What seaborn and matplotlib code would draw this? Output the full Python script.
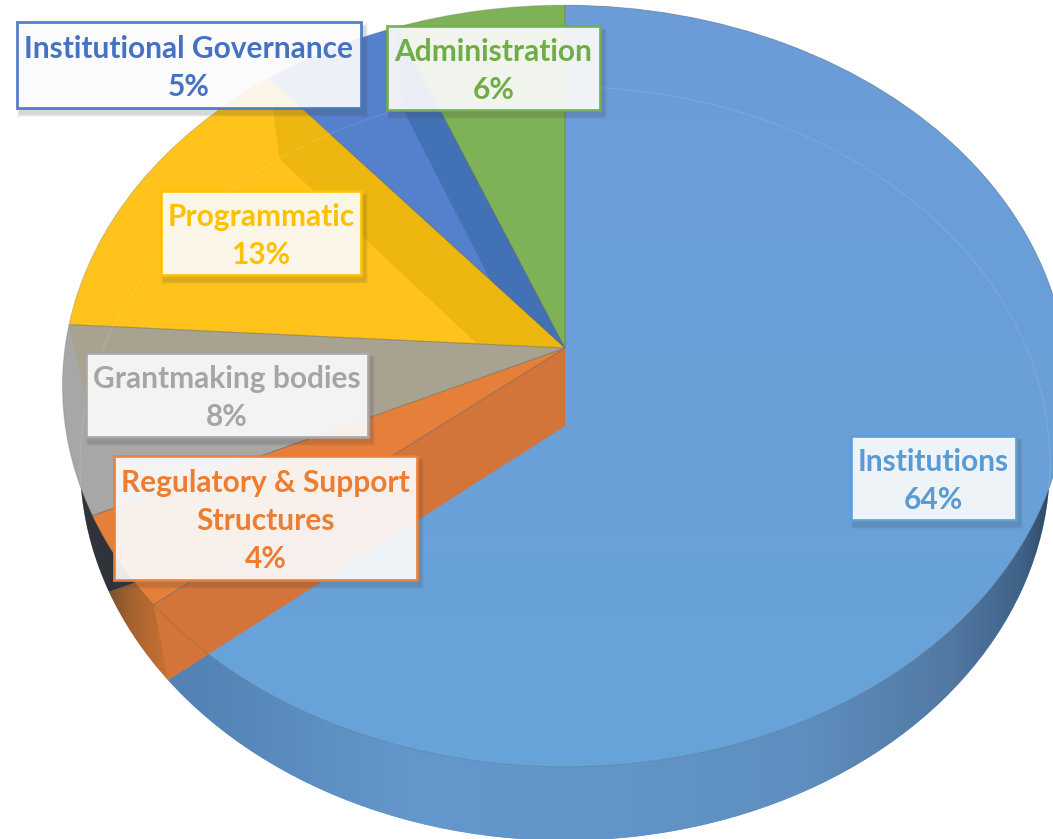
import numpy as np
import matplotlib
matplotlib.use("Agg")
import matplotlib.pyplot as plt
import seaborn as sns
from matplotlib.colors import LinearSegmentedColormap
from matplotlib.patches import Polygon, Rectangle, Circle
from matplotlib.transforms import Transform

# ---- data ----
categories = ["Institutions", "Regulatory & Support\nStructures", "Grantmaking bodies",
              "Programmatic", "Institutional Governance", "Administration"]
shares = [64, 4, 8, 13, 5, 6]

# ---- style ----
top_colors = ["#6A9FD8", "#E67F3A", "#A7A7A5", "#FFC31C", "#5580CB", "#7DB356"]
wall_colors = ["#D3743A", "#E67F3A", "#A8A391", "#EDB710", "#4272B5", "#7DB356"]
text_colors = ["#5B9BD5", "#ED7D31", "#A5A5A5", "#FFC000", "#4472C4", "#70AD47"]
label_boxes = [(851, 436, 165, 84), (114, 456, 303, 124), (86, 353, 282, 84),
               (161, 191, 200, 84), (17, 22, 344, 86), (387, 26, 213, 84)]
W, H = 1053, 839
APEX_X, APEX_Y, HALF_W, HALF_H, PERSP = 565, 348, 500, 377, 0.0997

sns.set_theme(style="white")
plt.rcParams["font.family"] = ["Lato", "DejaVu Sans"]


class Project(Transform):
    """Unit pie coordinates to the tilted view, in pixels of the picture."""
    input_dims = output_dims = 2
    has_inverse = False

    def __init__(self, drop=0, sx=1.0, sy=1.0):
        super().__init__()
        self.drop, self.sx, self.sy = drop, sx, sy

    def transform_non_affine(self, v):
        v = np.asarray(v, float)
        w = 1 + PERSP * v[:, 1]
        return np.column_stack([APEX_X + self.sx * HALF_W * v[:, 0] / w,
                                APEX_Y + self.drop - self.sy * HALF_H * v[:, 1] / w])


top_view, low_view = Project(), Project(78, 0.965, 0.99)

fig = plt.figure(figsize=(W / 100, H / 100), dpi=100)
ax = fig.add_axes([0, 0, 1, 1])


def pie(view, zorder, **props):
    wedges, _ = ax.pie(shares, colors=top_colors, startangle=90, counterclock=False,
                       wedgeprops=props)
    for w in wedges:
        w.set_transform(view + ax.transData)
        w.set_zorder(zorder)
    return wedges


def gradient(nodes, clip, zorder, horizontal=True):
    ramp = np.linspace(0, 1, 512)
    data = ramp[None, :] if horizontal else ramp[:, None]
    cmap = LinearSegmentedColormap.from_list("g", nodes, N=512)
    im = ax.imshow(data, extent=[0, W, H, 0], aspect="auto", cmap=cmap, zorder=zorder)
    im.set_clip_path(clip)
    return im


# outer side of the pie
low = pie(low_view, 1, linewidth=0)
gradient([(0, "#5B8ABB"), (170 / W, "#5281B2"), (400 / W, "#6496CB"), (565 / W, "#6296CA"),
          (800 / W, "#5F8FC0"), (950 / W, "#5279A3"), (1025 / W, "#3F6186"), (1, "#2E4662")],
         low[0], 1.5)
gradient([(0, "#5A3D28"), (100 / W, "#6B4A30"), (130 / W, "#A5622F"), (170 / W, "#CB7234"), (1, "#CB7234")],
         low[1], 1.5)
gradient([(0, "#30343A"), (1, "#30343A")], low[2], 1.5)

# top face
top = pie(top_view, 2, linewidth=0)
gradient([(0, "#6C9CD8"), (0.55, "#6AA0D8"), (1, "#66A5D9")], top[0], 2.5, horizontal=False)

# inner cut faces, seen through the slices
angles = np.cumsum(shares) / np.sum(shares) * 2 * np.pi
for i in range(len(shares)):
    edge = np.array([[0, 0], [np.sin(angles[i]), np.cos(angles[i])]])
    upper, lower = top_view.transform_non_affine(edge), low_view.transform_non_affine(edge)
    poly = Polygon([upper[0], upper[1], lower[1], lower[0]], closed=True,
                   facecolor=wall_colors[i], edgecolor="none", zorder=3)
    ax.add_patch(poly)
    if i > 0:
        # the face of a slice edge shows only inside that slice
        poly.set_clip_path(top[i])

# faint far rim of the lower disc and hairline slice edges
ring = Circle((0, 0), 1, fill=False, edgecolor="#FFFFFF", alpha=0.09, linewidth=1, zorder=3.5)
ring.set_transform(low_view + ax.transData)
ax.add_patch(ring)
ring.set_clip_path(Circle((0, 0), 1, transform=top_view + ax.transData))
for w in pie(top_view, 4, linewidth=0.8):
    w.set_facecolor("none")
    w.set_edgecolor((0.42, 0.42, 0.38, 0.28))

# data labels
for name, pct, color, (x, y, bw, bh) in zip(categories, shares, text_colors, label_boxes):
    for grow, a in ((7, 0.05), (5, 0.07), (3, 0.09)):
        ax.add_patch(Rectangle((x + 3 - grow / 2, y + 5 - grow / 2), bw + grow, bh + grow,
                               facecolor="#404040", edgecolor="none", alpha=a, zorder=5))
    ax.add_patch(Rectangle((x, y), bw, bh, facecolor="#FFFFFF", edgecolor=color,
                           linewidth=2, alpha=0.9, zorder=6))
    ax.text(x + bw / 2, y + bh / 2 + 3, f"{name}\n{pct}%", color=color, ha="center", va="center",
            fontsize=21.5, fontweight="bold", linespacing=1.44, zorder=7)

ax.set_aspect("auto")
ax.set_xlim(0, W)
ax.set_ylim(H, 0)
ax.set_axis_off()
fig.savefig("out.png", dpi=100, facecolor="white")
